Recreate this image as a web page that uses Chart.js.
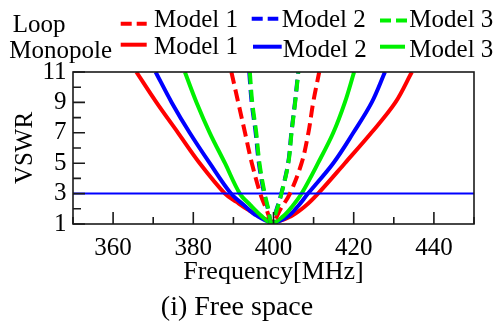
<!DOCTYPE html>
<html><head><meta charset="utf-8">
<script src="https://cdn.jsdelivr.net/npm/chart.js@4.4.1/dist/chart.umd.min.js"></script>
<style>html,body{margin:0;padding:0;background:#fff;}#wrap{width:496px;height:322px;}</style>
</head><body><div id="wrap"><canvas id="c" width="496" height="322"></canvas></div>
<script>
// ---- data ----
const groupNames = ['Loop', 'Monopole'];
const modelNames = ['Model 1', 'Model 2', 'Model 3'];
const xTickLabels = [360, 380, 400, 420, 440];
const yTickLabels = [1, 3, 5, 7, 9, 11];
const xTitle = 'Frequency[MHz]';
const yTitle = 'VSWR';
const caption = '(i) Free space';

const thresholdFreq = [350, 450];
const thresholdVSWR = [3, 3];

// Monopole (solid)
const monoM1Freq = [365.8, 370.8, 376.2, 381.6, 387.9, 390.8, 393.6, 396.6, 400.3, 404.3, 407.8, 411.1, 417.8, 424.4, 430.4, 434.5];
const monoM1VSWR = [11, 9, 7, 5, 3, 2.45, 1.95, 1.5, 1.15, 1.5, 2.15, 3, 5, 7, 9, 11];
const monoM2Freq = [370.6, 374.6, 379.1, 384.1, 389.4, 392.6, 395.8, 400.0, 403.6, 406.2, 408.6, 414.9, 419.9, 424.5, 427.8];
const monoM2VSWR = [11, 9, 7, 5, 3, 2.25, 1.55, 1.1, 1.5, 2.2, 3, 5, 7, 9, 11];
const monoM3Freq = [377.9, 380.8, 384.1, 387.9, 391.6, 394.2, 396.9, 399.6, 402.4, 404.8, 407.0, 411.1, 414.9, 417.8, 420.1];
const monoM3VSWR = [11, 9, 7, 5, 3, 2.25, 1.55, 1.05, 1.5, 2.2, 3, 5, 7, 9, 11];

// Loop (dashed)
const loopM1Freq = [389.5, 391.2, 392.9, 394.6, 396.7, 398.2, 399.7, 401.8, 404.1, 407.0, 408.7, 409.9, 411.4];
const loopM1VSWR = [11, 9, 7, 5, 3, 2.0, 1.1, 2.0, 3, 5, 7, 9, 11];
const loopM2Freq = [393.95, 394.55, 395.55, 396.35, 397.65, 398.6, 399.5, 400.8, 401.95, 403.65, 404.45, 405.35, 406.15];
const loopM2VSWR = [11, 9, 7, 5, 3, 2.0, 1.05, 2.0, 3, 5, 7, 9, 11];
const loopM3Freq = [394.1, 394.7, 395.7, 396.5, 397.8, 398.7, 399.5, 400.9, 402.0, 403.7, 404.5, 405.4, 406.2];
const loopM3VSWR = [11, 9, 7, 5, 3, 2.0, 1.05, 2.0, 3, 5, 7, 9, 11];

// ---- styles ----
const RED = '#ff0000', BLUE = '#0000ff', GREEN = '#00f000';
const FONT = "'Liberation Serif', serif";
Chart.defaults.font.family = FONT;
Chart.defaults.color = '#000';
const pts = (xs, ys) => xs.map((x, i) => ({x: x, y: ys[i]}));

function curve(xs, ys, color, dashed, group, model, order) {
  return {
    data: pts(xs, ys), borderColor: color, backgroundColor: color,
    borderWidth: 4, borderDash: dashed ? [12, 6] : [], showLine: true,
    pointRadius: 0, tension: 0.35, fill: false,
    order: order, group: group, model: model, dashed: dashed
  };
}

const datasets = [
  curve(loopM3Freq, loopM3VSWR, GREEN, true, 0, 2, 0),
  curve(loopM1Freq, loopM1VSWR, RED, true, 0, 0, 1),
  curve(loopM2Freq, loopM2VSWR, BLUE, true, 0, 1, 2),
  {data: pts(thresholdFreq, thresholdVSWR), borderColor: BLUE, borderWidth: 2, showLine: true, pointRadius: 0, order: 3},
  curve(monoM3Freq, monoM3VSWR, GREEN, false, 1, 2, 4),
  curve(monoM2Freq, monoM2VSWR, BLUE, false, 1, 1, 5),
  curve(monoM1Freq, monoM1VSWR, RED, false, 1, 0, 6)
];

// legend geometry (style only)
const legendGeom = {
  groupLabel: [{x: 12.7, y: 32}, {x: 9.3, y: 58.2}],
  sample: [
    [{x1: 120.7, x2: 146.7, y: 23.8}, {x1: 251.7, x2: 278.3, y: 18.7}, {x1: 380, x2: 407.3, y: 20.5}],
    [{x1: 120.7, x2: 146.7, y: 44.7}, {x1: 253, x2: 281.7, y: 46.7}, {x1: 380, x2: 405, y: 46.7}]
  ],
  text: [
    [{x: 154, y: 26.5}, {x: 281.7, y: 26.5}, {x: 409.3, y: 26.5}],
    [{x: 154, y: 53.8}, {x: 282.7, y: 56.5}, {x: 409.3, y: 56.5}]
  ]
};

const legendPlugin = {
  id: 'groupLegend',
  afterDraw(chart) {
    const ctx = chart.ctx;
    ctx.save();
    ctx.font = '25px ' + FONT;
    ctx.fillStyle = '#000';
    ctx.textBaseline = 'alphabetic';
    ctx.textAlign = 'left';
    groupNames.forEach((g, gi) => ctx.fillText(g, legendGeom.groupLabel[gi].x, legendGeom.groupLabel[gi].y));
    chart.data.datasets.forEach(ds => {
      if (ds.group === undefined) return;
      const s = legendGeom.sample[ds.group][ds.model];
      const t = legendGeom.text[ds.group][ds.model];
      ctx.beginPath();
      ctx.strokeStyle = ds.borderColor;
      ctx.lineWidth = 4;
      ctx.setLineDash(ds.dashed ? [11, 5] : []);
      ctx.moveTo(s.x1, s.y); ctx.lineTo(s.x2, s.y);
      ctx.stroke();
      ctx.setLineDash([]);
      ctx.fillStyle = '#000';
      ctx.fillText(modelNames[ds.model], t.x, t.y);
    });
    ctx.restore();
  }
};

const frameTicks = {
  id: 'frameTicks',
  afterDatasetsDraw(chart) {
    const {ctx, chartArea: a, scales: {x, y}} = chart;
    ctx.save();
    ctx.strokeStyle = '#1a1a1a';
    ctx.lineWidth = 1.6;
    ctx.setLineDash([]);
    ctx.beginPath();
    x.ticks.forEach(t => {
      const px = x.getPixelForValue(t.value);
      const len = xTickLabels.includes(t.value) ? 12 : 7;
      ctx.moveTo(px, a.bottom); ctx.lineTo(px, a.bottom - len);
    });
    y.ticks.forEach(t => {
      const py = y.getPixelForValue(t.value);
      const len = yTickLabels.includes(t.value) ? 12 : 8;
      ctx.moveTo(a.left, py); ctx.lineTo(a.left + len, py);
    });
    ctx.stroke();
    ctx.strokeRect(a.left, a.top, a.right - a.left, a.bottom - a.top);
    ctx.restore();
  }
};

const tickFont = {family: FONT, size: 25};

const chart = new Chart(document.getElementById('c'), {
  type: 'scatter',
  data: {datasets: datasets},
  options: {
    responsive: false, animation: false, devicePixelRatio: 1,
    layout: {padding: {top: 72, right: 22, left: 0, bottom: 0}},
    plugins: {
      legend: {display: false}, tooltip: {enabled: false},
      title: {display: true, position: 'bottom', text: caption,
              font: {family: FONT, size: 28, weight: 'normal', lineHeight: 1},
              padding: {top: 0, bottom: 0}}
    },
    scales: {
      x: {
        type: 'linear', min: 350, max: 450,
        ticks: {stepSize: 10, autoSkip: false, maxRotation: 0, padding: 9, font: tickFont,
                callback: v => xTickLabels.includes(v) ? String(v) : ''},
        grid: {display: false, drawTicks: false}, border: {display: false},
        title: {display: true, text: xTitle, font: {family: FONT, size: 26},
                padding: {top: 0, bottom: 6}},
        afterFit: s => { s.height = 70; }
      },
      y: {
        type: 'linear', min: 1, max: 11,
        ticks: {stepSize: 1, autoSkip: false, padding: 6.5, font: tickFont,
                callback: v => yTickLabels.includes(v) ? String(v) : ''},
        grid: {display: false, drawTicks: false}, border: {display: false},
        title: {display: true, text: yTitle, font: {family: FONT, size: 25},
                padding: {top: 10, bottom: 0}},
        afterFit: s => { s.width = 73; }
      }
    }
  },
  plugins: [legendPlugin, frameTicks]
});

if (document.fonts && document.fonts.load) {
  Promise.all([document.fonts.load('25px "Liberation Serif"'), document.fonts.load('28px "Liberation Serif"')])
    .then(() => { chart.update('none'); })
    .catch(() => {});
}
</script></body></html>
